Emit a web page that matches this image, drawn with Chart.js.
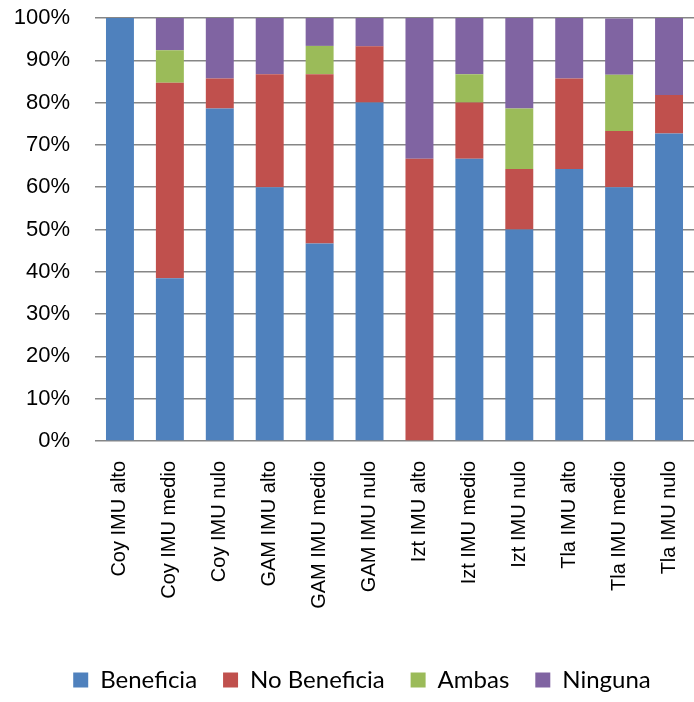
<!DOCTYPE html>
<html>
<head>
<meta charset="utf-8">
<script src="https://cdn.jsdelivr.net/npm/chart.js@4/dist/chart.umd.min.js"></script>
<style>
  body { margin: 0; background: #fff; }
  canvas { display: block; }
</style>
</head>
<body>
<canvas id="myChart" width="694" height="702"></canvas>
<script>
const categories = [
    "Coy IMU alto", "Coy IMU medio", "Coy IMU nulo",
    "GAM IMU alto", "GAM IMU medio", "GAM IMU nulo",
    "Izt IMU alto", "Izt IMU medio", "Izt IMU nulo",
    "Tla IMU alto", "Tla IMU medio", "Tla IMU nulo"
];

// percentages
const beneficia   = [100, 38.5, 78.6, 60.0, 46.7, 80.0, 0,    66.7, 50.0, 64.3, 60.0, 72.7];
const noBeneficia = [0,   46.2, 7.1,  26.7, 40.0, 13.3, 66.7, 13.3, 14.3, 21.4, 13.3, 9.1];
const ambas       = [0,   7.7,  0,    0,    6.7,  0,    0,    6.7,  14.3, 0,    13.3, 0];
const ninguna     = [0,   7.7,  14.3, 13.3, 6.7,  6.7,  33.3, 13.3, 21.4, 14.3, 13.3, 18.2];

const seriesNames = ["Beneficia", "No Beneficia", "Ambas", "Ninguna"];
const colors = ["#4F81BD", "#C0504D", "#9BBB59", "#8064A2"];

const yTicks = [0, 10, 20, 30, 40, 50, 60, 70, 80, 90, 100];

// the legend in the original sits a bit right of centre
const legendShift = {
    id: "legendShift",
    afterLayout: function(chart) {
        chart.legend.left += 15;
        chart.legend.right += 15;
    }
};

const ctx = document.getElementById("myChart");

new Chart(ctx, {
    type: "bar",
    data: {
        labels: categories,
        datasets: [beneficia, noBeneficia, ambas, ninguna].map(function(d, i) {
            return {
                label: seriesNames[i],
                data: d,
                backgroundColor: colors[i],
                borderWidth: 0,
                categoryPercentage: 1,
                barPercentage: 0.56
            };
        })
    },
    options: {
        responsive: false,
        devicePixelRatio: 1,
        animation: false,
        layout: { padding: { top: 18, right: 0, bottom: 0, left: 0 } },
        plugins: {
            tooltip: { enabled: false },
            legend: {
                position: "bottom",
                labels: {
                    boxWidth: 15,
                    boxHeight: 15,
                    padding: 26,
                    color: "#000",
                    font: { family: "Lato", size: 24 }
                }
            }
        },
        scales: {
            x: {
                stacked: true,
                grid: { display: false, drawTicks: false },
                border: { display: false },
                ticks: {
                    minRotation: 90,
                    maxRotation: 90,
                    padding: 20,
                    color: "#000",
                    font: { family: "Liberation Sans", size: 20 }
                },
                afterFit: function(scale) {
                    scale.height = 201;
                    scale.paddingLeft = 0;
                    scale.paddingRight = 0;
                }
            },
            y: {
                stacked: true,
                min: 0,
                max: 100,
                afterBuildTicks: function(scale) {
                    scale.ticks = yTicks.map(function(v) { return { value: v }; });
                },
                grid: { color: "#868686", lineWidth: 1.5, drawTicks: false },
                border: { display: false },
                ticks: {
                    padding: 25,
                    color: "#000",
                    font: { family: "Liberation Sans", size: 22 },
                    callback: function(v) { return v + "%"; }
                },
                afterFit: function(scale) {
                    scale.width = 95;
                    scale.paddingTop = 0;
                    scale.paddingBottom = 0;
                }
            }
        }
    },
    plugins: [legendShift]
});
</script>
</body>
</html>
